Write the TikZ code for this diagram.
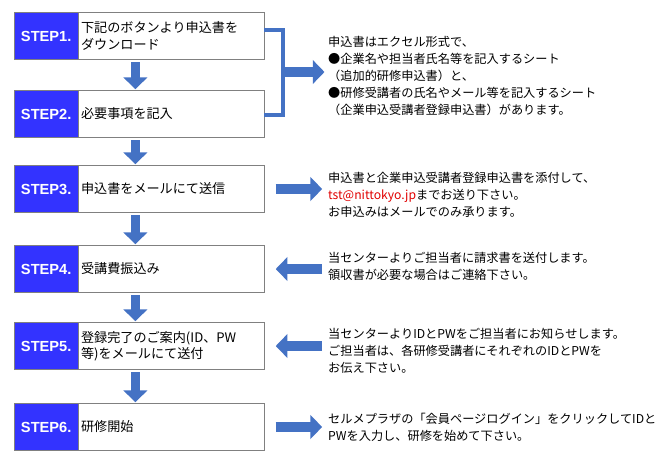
\documentclass[tikz,border=0pt]{standalone}
\usepackage{fontspec}
\setmainfont{Noto Sans CJK JP}
\newfontfamily\stepfont{Liberation Sans}
\usetikzlibrary{arrows.meta,positioning}
\definecolor{stepblue}{HTML}{3333FF}
\definecolor{arrowblue}{HTML}{4472C4}
\definecolor{mailred}{HTML}{E00000}
\tikzset{%
    stepno/.style={draw=gray,fill=stepblue,text=white,font=\stepfont\bfseries\fontsize{12.5}{14}\selectfont,minimum width=54.6pt,minimum height=40pt,inner sep=0pt,anchor=west},
    stepbox/.style={draw=gray,fill=white,font=\fontsize{11.2}{14}\selectfont,minimum width=158pt,minimum height=40pt,text width=154pt,align=left,inner sep=2pt},
    note/.style={anchor=north west,align=left,font=\fontsize{10.4}{14.5}\selectfont,inner sep=0pt},
    blockarrow/.style={draw=arrowblue,line width=8pt,-{Triangle[length=10pt,width=20pt]}},
    bracket/.style={draw=arrowblue,line width=3.5pt},
}
\begin{document}
\begin{tikzpicture}[x=0.03cm,y=-0.03cm]
      \useasboundingbox (0,0) rectangle (670,467);
      % steps
      \node[stepno] (s1) at (14,36) {STEP1.};
      \node[stepbox,right=0pt of s1] (b1) {下記のボタンより申込書を\\ダウンロード};
      \node[stepno] (s2) at (14,114) {STEP2.};
      \node[stepbox,right=0pt of s2] (b2) {必要事項を記入};
      \node[stepno] (s3) at (14,189) {STEP3.};
      \node[stepbox,right=0pt of s3] (b3) {申込書をメールにて送信};
      \node[stepno] (s4) at (14,269) {STEP4.};
      \node[stepbox,right=0pt of s4] (b4) {受講費振込み};
      \node[stepno] (s5) at (14,346) {STEP5.};
      \node[stepbox,right=0pt of s5] (b5) {登録完了のご案内(ID、PW\\等)をメールにて送付};
      \node[stepno] (s6) at (14,427) {STEP6.};
      \node[stepbox,right=0pt of s6] (b6) {研修開始};

      % down arrows
      \foreach \a/\b in {1/2,2/3,3/4,4/5,5/6}
        \draw[blockarrow] ([xshift=48.6pt,yshift=-2pt]s\a.south east) -- ([xshift=48.6pt,yshift=1pt]s\b.north east);

      % notes
      \node[note] (t1) at (328,36) {申込書はエクセル形式で、\\●企業名や担当者氏名等を記入するシート\\（追加的研修申込書）と、\\●研修受講者の氏名やメール等を記入するシート\\（企業申込受講者登録申込書）があります。};
      \node[note] (t3) at (328,172) {申込書と企業申込受講者登録申込書を添付して、\\{\color{mailred}tst@nittokyo.jp}までお送り下さい。\\お申込みはメールでのみ承ります。};
      \node[note] (t4) at (328,252) {当センターよりご担当者に請求書を送付します。\\領収書が必要な場合はご連絡下さい。};
      \node[note] (t5) at (328,328) {当センターよりIDとPWをご担当者にお知らせします。\\ご担当者は、各研修受講者にそれぞれのIDとPWを\\お伝え下さい。};
      \node[note] (t6) at (328,413) {セルメプラザの「会員ページログイン」をクリックしてIDと\\PWを入力し、研修を始めて下さい。};

      % bracket for steps 1 and 2
      \coordinate (k1) at (283,30);
      \coordinate (k2) at (283,115);
      \coordinate (k0) at (283,72);
      \draw[bracket] (b1.east |- k1) -- (k1) -- (k2) -- (b2.east |- k2);
      \draw[blockarrow] (k0) -- ([xshift=-3pt]k0 -| t1.west);

      % side arrows
      \draw[blockarrow] ([xshift=10pt]b3.east) -- ([xshift=-5pt]b3.east -| t3.west);
      \draw[blockarrow] ([xshift=-5pt]b4.east -| t4.west) -- ([xshift=10pt]b4.east);
      \draw[blockarrow] ([xshift=-5pt]b5.east -| t5.west) -- ([xshift=10pt]b5.east);
      \draw[blockarrow] ([xshift=10pt]b6.east) -- ([xshift=-5pt]b6.east -| t6.west);
\end{tikzpicture}
\end{document}
